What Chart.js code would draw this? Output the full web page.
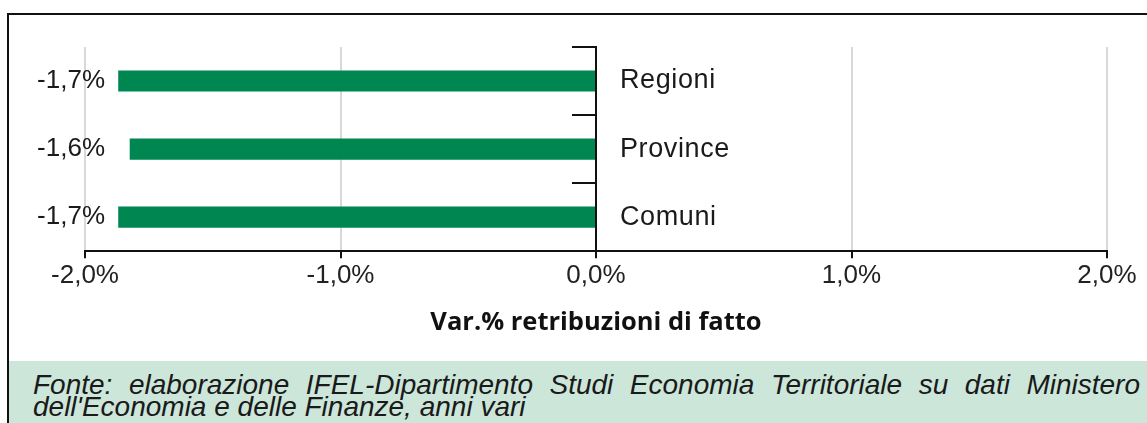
<!DOCTYPE html>
<html>
<head>
<meta charset="utf-8">
<script src="https://cdn.jsdelivr.net/npm/chart.js@4/dist/chart.umd.min.js"></script>
<style>
  body { margin: 0; background: #fff; width: 1147px; height: 423px; overflow: hidden; position: relative; }
  #frame { position: absolute; left: 7px; top: 13px; width: 1200px; height: 500px; border-left: 2px solid #111; border-top: 2px solid #111; }
  #chart { position: absolute; left: 0; top: 0; }
  #fonte { position: absolute; left: 9px; top: 361px; width: 1138px; height: 62px; background: #cce7da;
    box-sizing: border-box; padding: 13px 7px 0 24px; font: italic 28px 'Liberation Sans', Arial, sans-serif;
    line-height: 22px; color: #1a1a1a; text-align: justify; text-align-last: left; }
</style>
</head>
<body>
<div id="frame"></div>
<canvas id="chart" width="1147" height="360"></canvas>
<div id="fonte">Fonte: elaborazione IFEL-Dipartimento Studi Economia Territoriale su dati Ministero dell'Economia e delle Finanze, anni vari</div>
<script>
const categorie = ['Regioni', 'Province', 'Comuni'];
const variazioni = [-1.87, -1.825, -1.87];
const etichette = ['-1,7%', '-1,6%', '-1,7%'];
const titoloAsse = 'Var.% retribuzioni di fatto';

// etichette testuali: nome a destra dell'asse zero, valore a sinistra
const etichettePlugin = {
  id: 'etichette',
  afterDatasetsDraw(chart) {
    const ctx = chart.ctx;
    const xs = chart.scales.x;
    const ys = chart.scales.y;
    ctx.save();
    ctx.textBaseline = 'middle';
    ctx.fillStyle = '#1a1a1a';
    categorie.forEach((c, i) => {
      const y = ys.getPixelForValue(i);
      ctx.font = '27px "Liberation Sans", Arial, sans-serif';
      ctx.letterSpacing = '0.6px';
      ctx.textAlign = 'left';
      ctx.fillText(c, xs.getPixelForValue(0) + 24, y);
      ctx.font = '26px "Liberation Sans", Arial, sans-serif';
      ctx.letterSpacing = '0px';
      ctx.textAlign = 'right';
      ctx.fillText(etichette[i], xs.getPixelForValue(-2) + 20, y);
    });
    ctx.restore();
  }
};

new Chart(document.getElementById('chart'), {
  type: 'bar',
  data: {
    labels: categorie,
    datasets: [{
      data: variazioni,
      backgroundColor: '#008651',
      barPercentage: 0.31,
      categoryPercentage: 1
    }]
  },
  options: {
    indexAxis: 'y',
    responsive: false,
    devicePixelRatio: 1,
    animation: false,
    layout: { padding: { left: 85, right: 40, top: 47, bottom: 22 } },
    plugins: { legend: { display: false }, tooltip: { enabled: false } },
    scales: {
      x: {
        min: -2,
        max: 2,
        ticks: {
          stepSize: 1,
          padding: 2,
          color: '#222',
          font: { family: '"Liberation Sans", Arial, sans-serif', size: 26 },
          callback: v => v.toFixed(1).replace('.', ',') + '%'
        },
        grid: {
          color: ctx => ctx.tick && ctx.tick.value === 0 ? 'rgba(0,0,0,0)' : '#d9d9d9',
          lineWidth: 2,
          tickColor: '#111',
          tickLength: 7,
          tickWidth: 2
        },
        border: { color: '#111', width: 2 },
        title: {
          display: true,
          text: titoloAsse,
          color: '#111',
          font: { family: '"Open Sans", sans-serif', size: 25.5, weight: 'bold' },
          padding: { top: 14, bottom: 0 }
        }
      },
      y: {
        position: { x: 0 },
        ticks: { display: false },
        grid: {
          drawOnChartArea: false,
          offset: true,
          color: '#111',
          lineWidth: 2,
          tickLength: 23
        },
        border: { color: '#111', width: 2 }
      }
    }
  },
  plugins: [etichettePlugin]
});
</script>
</body>
</html>
